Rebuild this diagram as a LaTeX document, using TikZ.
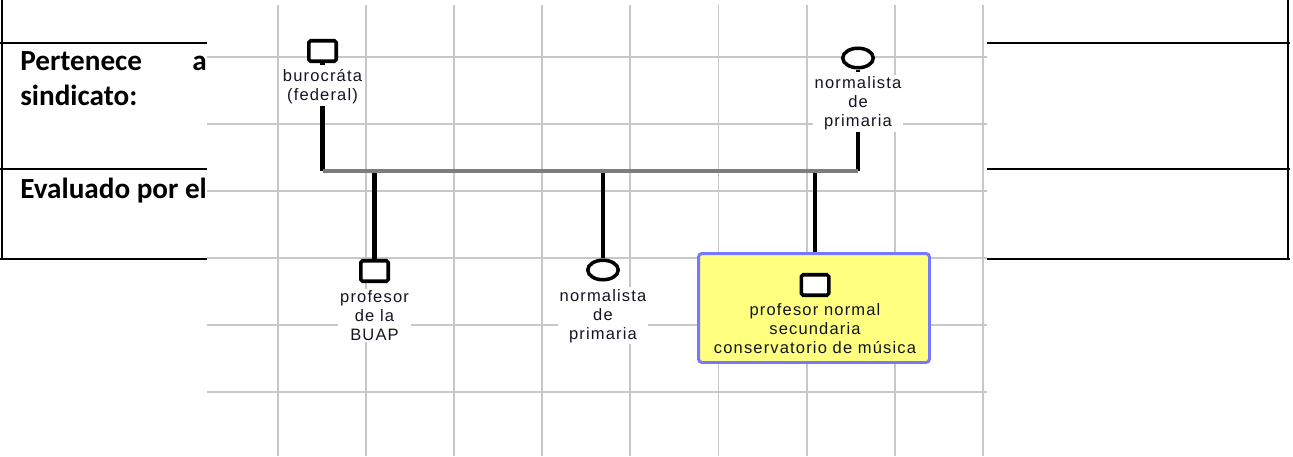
\documentclass[tikz,border=0pt]{standalone}
\usepackage{fontspec}
\setmainfont{Liberation Sans}
\newfontfamily\tablefont{Carlito}
\newfontfamily\pedfont[LetterSpace=7]{Liberation Sans}
\usetikzlibrary{shapes.geometric, positioning}
\definecolor{gridgray}{RGB}{200,200,200}
\definecolor{sibgray}{RGB}{125,125,125}
\definecolor{boxyellow}{RGB}{255,255,128}
\definecolor{boxblue}{RGB}{120,120,255}
\definecolor{labeltext}{RGB}{20,20,35}
\tikzstyle{male} = [rectangle, rounded corners=1pt, draw=black, line width=2pt, fill=white, minimum width=0.55cm, minimum height=0.41cm, inner sep=0pt]
\tikzstyle{female} = [ellipse, draw=black, line width=2pt, fill=white, minimum width=0.61cm, minimum height=0.39cm, inner sep=0pt]
\tikzstyle{pedlabel} = [align=center, inner sep=1pt, fill=white, text=labeltext, font=\pedfont\fontsize{9.4}{10.8}\selectfont]
\tikzstyle{descent} = [line width=2.3pt, black]
\tikzstyle{mateline} = [line width=1.9pt, sibgray]
\tikzstyle{tableline} = [line width=1.1pt, black]
\tikzstyle{tabletext} = [anchor=base west, inner sep=0pt, font=\tablefont\bfseries\fontsize{16.6}{19}\selectfont]
\tikzstyle{gridline} = [line width=1.1pt, gridgray]
\tikzstyle{probandbox} = [rectangle, rounded corners=2pt, draw=boxblue, fill=boxyellow, line width=1.7pt, minimum width=4.62cm, minimum height=2.18cm]

\begin{document}
\begin{tikzpicture}[x=0.02cm, y=-0.02cm]
\useasboundingbox (0,0) rectangle (1293,456);
% table behind the picture
\draw [tableline] (2,0) -- (2,259);
\draw [tableline] (1288,0) -- (1288,259);
\draw [tableline] (0,43) -- (1290,43);
\draw [tableline] (0,169) -- (1290,169);
\draw [tableline] (0,259) -- (1290,259);
\node (pertenece) [tabletext] at (20,71) {Pertenece};
\node (prep) [tabletext] at (192,71) {a};
\node (sindicato) [tabletext] at (20,105) {sindicato:};
\node (evaluado) [tabletext] at (20,198) {Evaluado por el};
% genogram on its grid
\fill [white] (207,5) rectangle (987,456);
\foreach \x in {0,...,8}
  \draw [gridline] (278+88.1*\x,5) -- (278+88.1*\x,456);
\foreach \y in {0,...,5}
  \draw [gridline] (207,57+67*\y) -- (987,57+67*\y);
% parents
\node (father) [male] at (322.5,51) {};
\node (fatherlbl) [pedlabel, below=0.09cm of father] {burocráta\\(federal)};
\node (mother) [female] at (858,58) {};
\node (motherlbl) [pedlabel, below=0.1cm of mother] {normalista\\de\\primaria};
\coordinate (fjoin) at (322.5,171);
\coordinate (mjoin) at (858,171);
% children
\node (son) [male] at (374.5,271) {};
\node (sonlbl) [pedlabel, below=0.11cm of son] {profesor\\de la\\BUAP};
\node (daughter) [female] at (603,270) {};
\node (daughterlbl) [pedlabel, below=0.11cm of daughter] {normalista\\de\\primaria};
\node (probandbox) [probandbox] at (814,308) {};
\node (proband) [male] at (815,285) {};
\node (probandlbl) [pedlabel, fill=none, below=0.09cm of proband] {profesor normal\\secundaria\\conservatorio de música};
% lines
\draw [descent] (father.south) -- ++(0,2);
\draw [descent] (mother.south) -- ++(0,2);
\draw [descent] (fatherlbl.south) -- (fjoin);
\draw [descent] (motherlbl.south) -- (mjoin);
\draw [descent] (son.north) -- (son |- fjoin);
\draw [descent] (daughter.north) -- (daughter |- fjoin);
\draw [descent] (probandbox.north -| proband) -- (proband |- fjoin);
\draw [mateline] (fjoin) -- (mjoin);
\end{tikzpicture}
\end{document}
